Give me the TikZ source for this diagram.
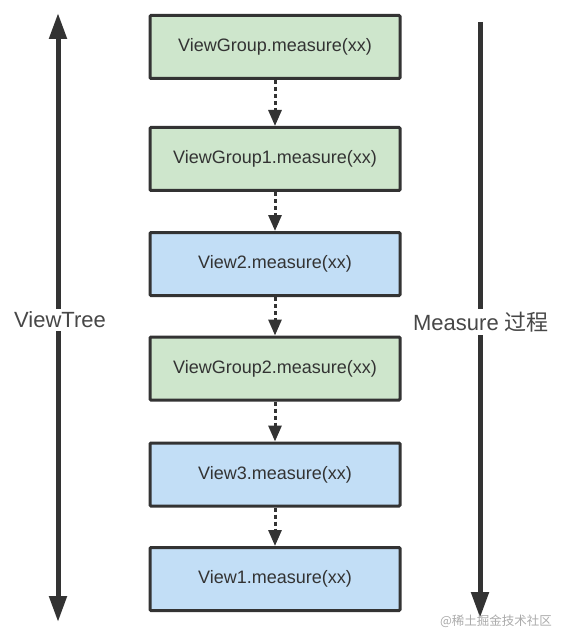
\documentclass[tikz,border=0pt]{standalone}
\usepackage{fontspec}
\setmainfont{Liberation Sans}
\newfontfamily\cjk{Noto Sans CJK SC}
\usetikzlibrary{positioning, calc, arrows.meta}

\definecolor{groupgreen}{RGB}{206,230,204}
\definecolor{viewblue}{RGB}{194,222,246}
\definecolor{edgegray}{RGB}{51,51,51}
\definecolor{markgray}{RGB}{170,170,170}

\begin{document}
\begin{tikzpicture}[
        x=1pt, y=-1pt,
        callbox/.style={
            draw=edgegray,
            line width=3pt,
            rounded corners=1pt,
            minimum width=250pt,
            minimum height=63pt,
            text=edgegray,
            font=\fontsize{18}{20}\selectfont
        },
        groupbox/.style={callbox, fill=groupgreen},
        viewbox/.style={callbox, fill=viewblue},
        step arrow/.style={
            draw=edgegray,
            line width=3pt,
            dash pattern=on 4pt off 3pt,
            -{Triangle[width=13pt,length=16pt]}
        },
        side arrow/.style={
            draw=edgegray,
            line width=5pt
        },
        side label/.style={
            fill=white,
            text=edgegray!90,
            inner sep=3pt,
            font=\fontsize{22}{24}\selectfont
        }
    ]

        \useasboundingbox (0,0) rectangle (566,644);

        % Measure call boxes
        \node[groupbox] (vg)  at (275, 47)    {ViewGroup.measure(xx)};
        \node[groupbox] (vg1) at (275, 159)   {ViewGroup1.measure(xx)};
        \node[viewbox]  (v2)  at (275, 264)   {View2.measure(xx)};
        \node[groupbox] (vg2) at (275, 368.5) {ViewGroup2.measure(xx)};
        \node[viewbox]  (v3)  at (275, 474.5) {View3.measure(xx)};
        \node[viewbox]  (v1)  at (275, 579)   {View1.measure(xx)};

        % Dotted steps between the calls
        \draw[step arrow] (vg.south)  -- (vg1.north);
        \draw[step arrow] (vg1.south) -- (v2.north);
        \draw[step arrow] (v2.south)  -- (vg2.north);
        \draw[step arrow] (vg2.south) -- (v3.north);
        \draw[step arrow] (v3.south)  -- (v1.north);

        % ViewTree arrow (left)
        \coordinate (treetop) at (58, 13);
        \coordinate (treebot) at (58, 622);
        \draw[side arrow, {Triangle[width=17pt,length=26pt]}-{Triangle[width=17pt,length=26pt]}]
            (treetop) -- (treebot);
        \node[side label] (treelabel) at (60, 320) {ViewTree};

        % Measure arrow (right)
        \coordinate (passtop) at (480, 22);
        \coordinate (passbot) at (480, 618);
        \draw[side arrow, -{Triangle[width=17pt,length=26pt]}] (passtop) -- (passbot);
        \node[side label] (passlabel) at (481, 322) {Measure {\cjk 过程}};

        % Watermark
        \node[text=markgray, font=\cjk\fontsize{12.5}{14}\selectfont] (mark) at (496, 621) {@稀土掘金技术社区};

\end{tikzpicture}
\end{document}
